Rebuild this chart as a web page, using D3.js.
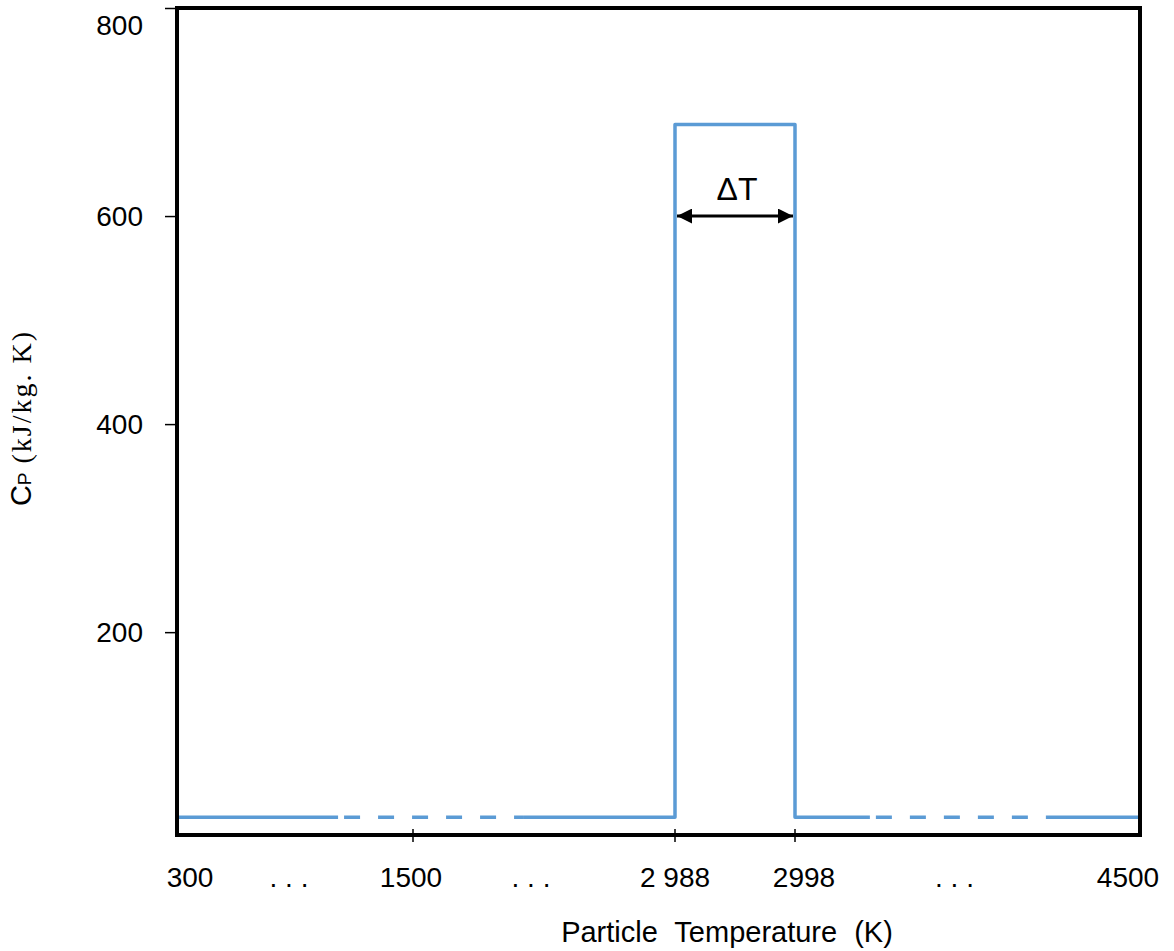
<!DOCTYPE html>
<html>
<head>
<meta charset="utf-8">
<script src="https://cdn.jsdelivr.net/npm/d3@7"></script>
<style>
  body { margin: 0; background: #fff; }
  text { font-family: "Liberation Sans", Arial, sans-serif; fill: #000; }
</style>
</head>
<body>
<div id="chart"></div>
<script>
// x axis is broken: each break value gets its own slot along the axis
const tempBreaks = [300, 1500, 2988, 2998, 4500];
const tempLabels = ['300', '1500', '2 988', '2998', '4500'];
const gapLabel = '. . .';
const gapAfter = [0, 1, 3];          // ellipses go after these breaks
const xTicks = [1500, 2988, 2998];

// cp curve (schematic step)
const curveT = [300, 1119, 2125, 2988, 2988, 2998, 2998, 3324, 4095, 4500];
const curveCp = [22, 22, 22, 22, 688, 688, 22, 22, 22, 22];
const segDashed = [false, true, false, false, false, false, false, true, false];

const yTicks = [200, 400, 600, 800];
const arrowCp = 600;

const width = 1174, height = 951;
const plotLeft = 177, plotTop = 8, plotRight = 1140, plotBottom = 835;
const plotW = plotRight - plotLeft;

const svg = d3.select('#chart').append('svg').attr('width', width).attr('height', height);

const x = d3.scaleLinear().domain(tempBreaks)
  .range([0, 236, 498, 618, plotW].map(d => plotLeft + d));
const y = d3.scaleLinear().domain([5, 800]).range([plotBottom, plotTop]);

// y axis ticks + labels
const yAxis = d3.axisLeft(y).tickValues(yTicks).tickSize(12).tickPadding(22).tickFormat(d3.format('d'));
const gy = svg.append('g').attr('transform', `translate(${plotLeft},0)`).call(yAxis);
gy.select('.domain').remove();
gy.selectAll('.tick line').attr('stroke', '#000').attr('stroke-width', 1.5);
gy.selectAll('.tick text').style('font-size', '28px').style('font-family', '"Liberation Sans", Arial, sans-serif')
  .attr('fill', '#000')
  .attr('dy', d => d === d3.max(yTicks) ? '0.95em' : '0.32em');

// x ticks cross the axis line
svg.append('g').selectAll('line').data(xTicks).enter().append('line')
  .attr('x1', d => x(d)).attr('x2', d => x(d))
  .attr('y1', plotBottom - 6).attr('y2', plotBottom + 7)
  .attr('stroke', '#000').attr('stroke-width', 1.5);

const labelY = 887;
const labelShift = [13, -2, 0, 9, -12];
svg.append('g').selectAll('text').data(tempBreaks).enter().append('text')
  .attr('x', (d, i) => x(d) + labelShift[i]).attr('y', labelY)
  .attr('text-anchor', 'middle').style('font-size', '28px')
  .text((d, i) => tempLabels[i]);

svg.append('g').selectAll('text').data(gapAfter).enter().append('text')
  .attr('x', i => (x(tempBreaks[i]) + x(tempBreaks[i + 1])) / 2 - (i === 0 ? 6 : 13))
  .attr('y', labelY).attr('text-anchor', 'middle').style('font-size', '28px')
  .text(gapLabel);

// curve
const line = d3.line().x(d => x(d[0])).y(d => y(d[1]));
const pts = curveT.map((t, i) => [t, curveCp[i]]);
const segs = [];
segDashed.forEach((dash, i) => {
  const last = segs[segs.length - 1];
  if (last && last.dash === dash) last.pts.push(pts[i + 1]);
  else segs.push({ dash: dash, pts: [pts[i], pts[i + 1]] });
});
svg.append('g').selectAll('path').data(segs).enter().append('path')
  .attr('d', d => line(d.pts))
  .attr('fill', 'none').attr('stroke', '#5B9BD5').attr('stroke-width', 3.5)
  .attr('stroke-linejoin', 'round')
  .attr('stroke-dasharray', d => d.dash ? '0,6,16,12' : null);

// frame
svg.append('rect').attr('x', plotLeft).attr('y', plotTop)
  .attr('width', plotW).attr('height', plotBottom - plotTop)
  .attr('fill', 'none').attr('stroke', '#000').attr('stroke-width', 4);

// delta T arrow
const defs = svg.append('defs');
['end', 'start'].forEach(k => {
  defs.append('marker').attr('id', 'arr-' + k)
    .attr('viewBox', '0 0 10 10').attr('refX', 10).attr('refY', 5)
    .attr('markerWidth', 5.5).attr('markerHeight', 5)
    .attr('markerUnits', 'strokeWidth')
    .attr('orient', k === 'end' ? 'auto' : 'auto-start-reverse')
    .append('path').attr('d', 'M0,0L10,5L0,10z').attr('fill', '#000');
});
svg.append('line')
  .attr('x1', x(2988) + 2).attr('x2', x(2998) - 2)
  .attr('y1', y(arrowCp)).attr('y2', y(arrowCp))
  .attr('stroke', '#000').attr('stroke-width', 3)
  .attr('marker-start', 'url(#arr-start)').attr('marker-end', 'url(#arr-end)');
svg.append('text').attr('x', (x(2988) + x(2998)) / 2 + 2).attr('y', y(arrowCp) - 16)
  .attr('text-anchor', 'middle').style('font-size', '32px').text('ΔT');

// axis titles
svg.append('text').attr('x', 727).attr('y', 942).attr('text-anchor', 'middle')
  .style('font-size', '29px').style('word-spacing', '9px')
  .text('Particle Temperature (K)');

const yt = svg.append('text').attr('transform', 'translate(31,418) rotate(-90)')
  .attr('text-anchor', 'middle');
yt.append('tspan').style('font-size', '29px').text('C');
yt.append('tspan').style('font-size', '19px').text('P');
yt.append('tspan').style('font-size', '28px')
  .style('font-family', '"Liberation Serif", "DejaVu Serif", serif')
  .style('letter-spacing', '2px')
  .text(' (kJ/kg. K)');
</script>
</body>
</html>
